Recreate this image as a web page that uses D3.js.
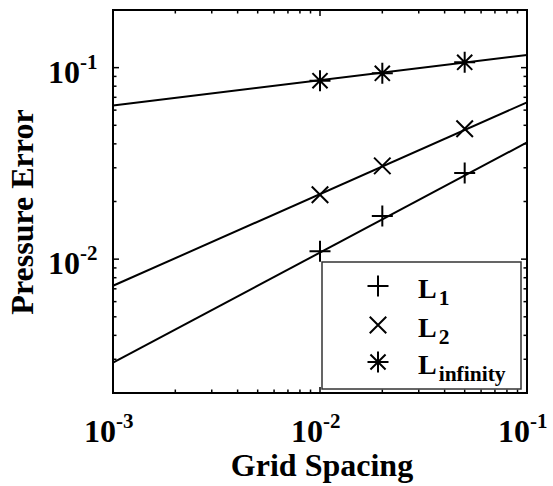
<!DOCTYPE html>
<html>
<head>
<meta charset="utf-8">
<script src="https://cdn.jsdelivr.net/npm/d3@7"></script>
<style>
  html, body { margin: 0; padding: 0; background: #fff; }
  svg { display: block; }
  text { font-family: "Liberation Serif", "Times New Roman", serif; font-weight: bold; fill: #000; }
</style>
</head>
<body>
<svg id="chart" width="553" height="486"></svg>
<script>
// Grid spacing of the measured runs and the pressure error norms
const gridSpacing = [0.01, 0.02, 0.05];
const errL1   = [0.0110, 0.0168, 0.0282];
const errL2   = [0.0217, 0.0307, 0.0480];
const errLinf = [0.0855, 0.0934, 0.1066];

// Least-squares fit lines evaluated at the ends of the x range
const fitSpacing = [0.001, 0.1];
const fitL1   = [0.00288, 0.0407];
const fitL2   = [0.00726, 0.0659];
const fitLinf = [0.0634, 0.1165];

// Axis limits and labelled decades
const xDomain = [0.001, 0.1];
const yDomain = [0.002, 0.2];
const xTickExps = [-3, -2, -1];
const yTickExps = [-2, -1];

const legendNames = ["1", "2", "infinity"];
const markerKinds = ["plus", "cross", "star"];

const svg = d3.select("#chart");
const m = { left: 113, right: 527, top: 10, bottom: 393 };

const x = d3.scaleLog().domain(xDomain).range([m.left, m.right]);
const y = d3.scaleLog().domain(yDomain).range([m.bottom, m.top]);

const series = [
  { name: legendNames[0], kind: markerKinds[0], pts: errL1,   fit: fitL1 },
  { name: legendNames[1], kind: markerKinds[1], pts: errL2,   fit: fitL2 },
  { name: legendNames[2], kind: markerKinds[2], pts: errLinf, fit: fitLinf }
];

// Marker path generators (centered at 0,0)
function markerPath(kind, s) {
  const p = d3.path();
  if (kind === "plus") {
    p.moveTo(-s, 0); p.lineTo(s, 0);
    p.moveTo(0, -s); p.lineTo(0, s);
  } else if (kind === "cross") {
    const d = s * 0.75;
    p.moveTo(-d, -d); p.lineTo(d, d);
    p.moveTo(-d, d); p.lineTo(d, -d);
  } else {
    const d = s * 0.72;
    p.moveTo(-s, 0); p.lineTo(s, 0);
    p.moveTo(0, -s); p.lineTo(0, s);
    p.moveTo(-d, -d); p.lineTo(d, d);
    p.moveTo(-d, d); p.lineTo(d, -d);
  }
  return p.toString();
}

// Ticks on all four sides, pointing inward
const xAll = x.ticks();
const yAll = y.ticks();
const isMajor = v => Math.abs(Math.log10(v) - Math.round(Math.log10(v))) < 1e-9;
const majorLen = 6, minorLen = 3.5;

const axisG = svg.append("g").attr("stroke", "#000").attr("stroke-width", 1.5);
xAll.forEach(v => {
  const len = isMajor(v) ? majorLen : minorLen;
  const px = x(v);
  axisG.append("line").attr("x1", px).attr("x2", px).attr("y1", m.bottom).attr("y2", m.bottom - len);
  axisG.append("line").attr("x1", px).attr("x2", px).attr("y1", m.top).attr("y2", m.top + len);
});
yAll.forEach(v => {
  const len = isMajor(v) ? majorLen : minorLen;
  const py = y(v);
  axisG.append("line").attr("x1", m.left).attr("x2", m.left + len).attr("y1", py).attr("y2", py);
  axisG.append("line").attr("x1", m.right).attr("x2", m.right - len).attr("y1", py).attr("y2", py);
});

// Fit lines
const line = d3.line().x(d => x(d[0])).y(d => y(d[1]));
series.forEach(s => {
  svg.append("path")
    .attr("d", line(fitSpacing.map((h, i) => [h, s.fit[i]])))
    .attr("fill", "none").attr("stroke", "#000").attr("stroke-width", 2);
});

// Data markers
series.forEach(s => {
  svg.append("g").selectAll("path").data(s.pts).join("path")
    .attr("transform", (d, i) => `translate(${x(gridSpacing[i])},${y(d)})`)
    .attr("d", markerPath(s.kind, s.kind === "cross" ? 11 : 10.5))
    .attr("fill", "none").attr("stroke", "#000").attr("stroke-width", 2);
});

// Legend
const lg = svg.append("g");
lg.append("rect").attr("x", 322).attr("y", 262).attr("width", 199).attr("height", 127)
  .attr("fill", "#fff").attr("stroke", "#333").attr("stroke-width", 1.5);
const legendRows = [286, 325, 362];
series.forEach((s, i) => {
  lg.append("path")
    .attr("transform", `translate(378,${legendRows[i]})`)
    .attr("d", markerPath(s.kind, s.kind === "cross" ? 11 : 10.5))
    .attr("fill", "none").attr("stroke", "#000").attr("stroke-width", 2);
  const t = lg.append("text").attr("x", 418).attr("y", legendRows[i] + 12).attr("font-size", 28);
  t.append("tspan").text("L");
  t.append("tspan").attr("dx", 2).attr("dy", 7).attr("font-size", 21.5).text(s.name);
});

// Axis box
svg.append("rect").attr("x", m.left).attr("y", m.top)
  .attr("width", m.right - m.left).attr("height", m.bottom - m.top)
  .attr("fill", "none").attr("stroke", "#000").attr("stroke-width", 2);

// Tick labels as powers of ten: mantissa ends at the anchor, exponent starts there
function powLabel(ax, ay, e) {
  svg.append("text").attr("x", ax).attr("y", ay).attr("font-size", 32)
    .attr("text-anchor", "end").text("10");
  svg.append("text").attr("x", ax).attr("y", ay - 14).attr("font-size", 21)
    .attr("text-anchor", "start").text(String(e));
}
xTickExps.forEach(e => powLabel(x(Math.pow(10, e)) + 3, 442, e));
yTickExps.forEach(e => powLabel(80, y(Math.pow(10, e)) + 15, e));

// Axis titles
svg.append("text").attr("x", 322).attr("y", 476).attr("text-anchor", "middle")
  .attr("font-size", 32).text("Grid Spacing");
svg.append("text").attr("transform", "translate(33,212) rotate(-90)").attr("text-anchor", "middle")
  .attr("font-size", 32).text("Pressure Error");
</script>
</body>
</html>
